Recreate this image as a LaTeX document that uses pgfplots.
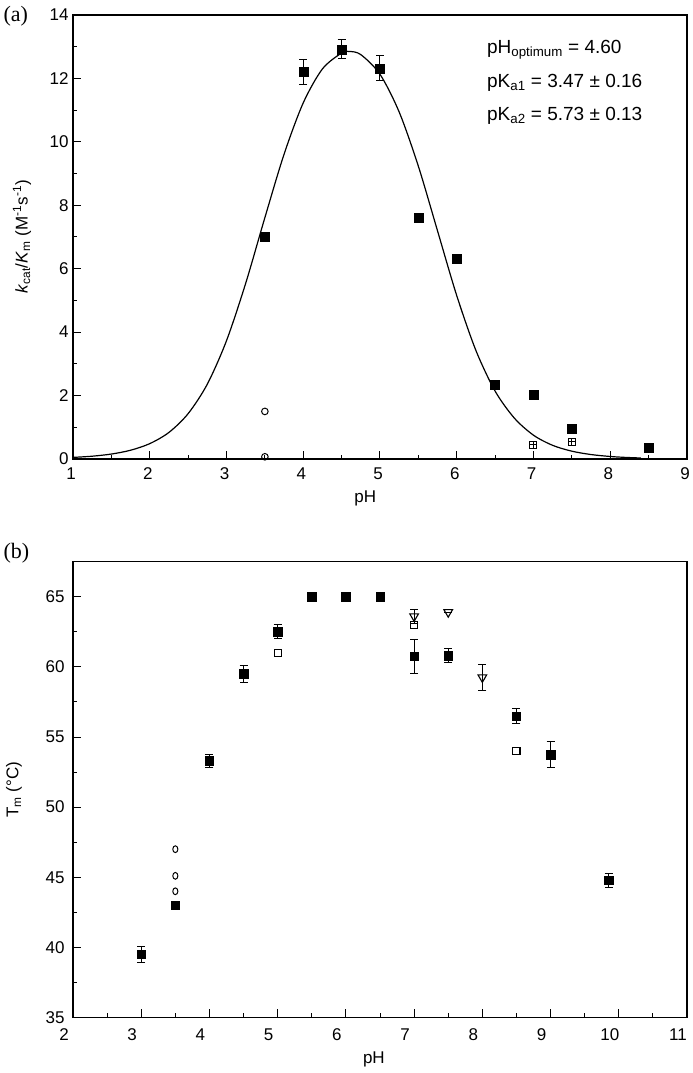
\documentclass[border=0pt]{standalone}
\usepackage{fontspec}
\setmainfont{Liberation Sans}
\newfontfamily\seriffont{Liberation Serif}
\usepackage{pgfplots}
\pgfplotsset{compat=1.18}
\usetikzlibrary{plotmarks}

\pgfplotsset{
  myaxis/.style={
    scale only axis, width=614pt,
    axis line style={line width=1.2pt},
    tick align=inside, xtick pos=bottom, ytick pos=left,
    major tick length=8pt, minor tick length=4pt,
    tick style={line width=1pt, black},
    ticklabel style={font=\fontsize{17}{17}\selectfont},
    /pgf/number format/assume math mode=true,
    label style={font=\fontsize{17}{17}\selectfont},
    minor x tick num=1, minor y tick num=1,
    clip=false,
  },
  errb/.style={error bars/.cd, y dir=both, y explicit, error mark=-,
    error mark options={rotate=90, line width=1pt, mark size=4pt, black, solid},
    error bar style={line width=1pt, black}},
}

\begin{document}
\begin{tikzpicture}[x=1pt,y=1pt]
\path[use as bounding box] (0,0) rectangle (693,1073);

% ---------- panel (a) ----------
\begin{axis}[myaxis, at={(73pt,614pt)}, anchor=south west, height=444pt,
  xmin=1, xmax=9, ymin=0, ymax=14,
  xtick={1,...,9}, ytick={0,2,...,14},
  xticklabel style={yshift=-5pt, xshift=-2pt}, yticklabel style={xshift=-1pt},
  xlabel={pH},
  xlabel style={at={(axis description cs:0.476,-0.088)}, anchor=center},
  ylabel={\textit{k}\textsubscript{cat}/\textit{K}\textsubscript{m} (M\textsuperscript{-1}s\textsuperscript{-1})},
  ylabel style={at={(axis description cs:-0.083,0.5)}, rotate=0, anchor=center},
]
% fitted curve
\addplot[black, line width=1.2pt, smooth] coordinates {
(1.0,0.050) (1.25,0.088) (1.5,0.156) (1.75,0.276) (2.0,0.484) (2.25,0.838)
(2.5,1.43) (2.75,2.36) (3.0,3.73) (3.25,5.54) (3.5,7.61) (3.75,9.61)
(4.0,11.23) (4.25,12.30) (4.5,12.80) (4.6,12.85) (4.75,12.75) (5.0,12.13)
(5.25,10.94) (5.5,9.23) (5.75,7.19) (6.0,5.15) (6.25,3.42) (6.5,2.14)
(6.75,1.29) (7.0,0.75) (7.25,0.43) (7.5,0.246) (7.75,0.14) (8.0,0.079)
(8.2,0.050) (8.4,0.031)};
% filled squares
\addplot[only marks, mark=square*, mark size=4.5pt, black, errb] table[y error index=2] {
x y e
3.5 7.00 0
4.0 12.20 0.40
4.5 12.92 0.30
5.0 12.32 0.40
5.5 7.62 0
6.0 6.30 0
6.5 2.35 0
7.0 2.02 0
7.5 0.96 0
8.5 0.36 0
};
% open circles
\addplot[only marks, mark=o, mark size=3.3pt, black, line width=1pt] coordinates {(3.5,1.50) (3.5,0.07)};
% open squares with cross
\addplot[only marks, mark=square, mark size=3.5pt, black, line width=1pt] coordinates {(7.0,0.45) (7.5,0.55)};
\addplot[only marks, mark=+, mark size=3.5pt, black, line width=0.8pt] coordinates {(7.0,0.45) (7.5,0.55)};
% annotation
\node[anchor=west, font=\fontsize{19}{19}\selectfont] at (axis cs:6.35,12.9) {pH\textsubscript{optimum} = 4.60};
\node[anchor=west, font=\fontsize{19}{19}\selectfont] at (axis cs:6.35,11.86) {pK\textsubscript{a1} = 3.47 ± 0.16};
\node[anchor=west, font=\fontsize{19}{19}\selectfont] at (axis cs:6.35,10.82) {pK\textsubscript{a2} = 5.73 ± 0.13};
\end{axis}

% ---------- panel (b) ----------
\begin{axis}[myaxis, at={(73pt,55.5pt)}, anchor=south west, height=455.8pt,
  xmin=2, xmax=11, ymin=35, ymax=67.5,
  xtick={2,...,11}, ytick={35,40,...,65},
  xticklabel style={yshift=-8pt, xshift=-9pt}, yticklabel style={xshift=-5pt},
  xlabel={pH},
  xlabel style={at={(axis description cs:0.49,-0.093)}, anchor=center},
  ylabel={T\textsubscript{m} (°C)},
  ylabel style={at={(axis description cs:-0.096,0.5)}, rotate=0, anchor=center},
]
\addplot[only marks, mark=square*, mark size=4.2pt, black, errb] table[y error index=2] {
x y e
3.0 39.5 0.55
3.5 43.0 0
4.0 53.3 0.45
4.5 59.5 0.6
5.0 62.5 0.5
5.5 65.0 0
6.0 65.0 0
6.5 65.0 0
7.0 60.75 1.2
7.5 60.8 0.5
8.5 56.5 0.55
9.0 53.75 0.95
9.85 44.8 0.5
};
\addplot[only marks, mark=square, mark size=3.6pt, black, line width=1.1pt] coordinates {(5.0,61.0) (7.0,63.0) (8.5,54.0)};
\addplot[only marks, mark=o, mark size=3.4pt, mark options={xscale=0.75}, black, line width=1pt] coordinates {(3.5,47.0) (3.5,45.1) (3.5,44.0)};
\addplot[only marks, mark=triangle, mark size=5pt, mark options={rotate=180}, black, line width=1.1pt, errb] table[y error index=2] {
x y e
7.0 63.6 0.5
7.5 63.9 0
8.0 59.25 0.9
};
\end{axis}

\node[anchor=west, font=\seriffont\fontsize{22}{22}\selectfont] at (0,1057) {(a)};
\node[anchor=west, font=\seriffont\fontsize{22}{22}\selectfont] at (0,520) {(b)};
\end{tikzpicture}
\end{document}
